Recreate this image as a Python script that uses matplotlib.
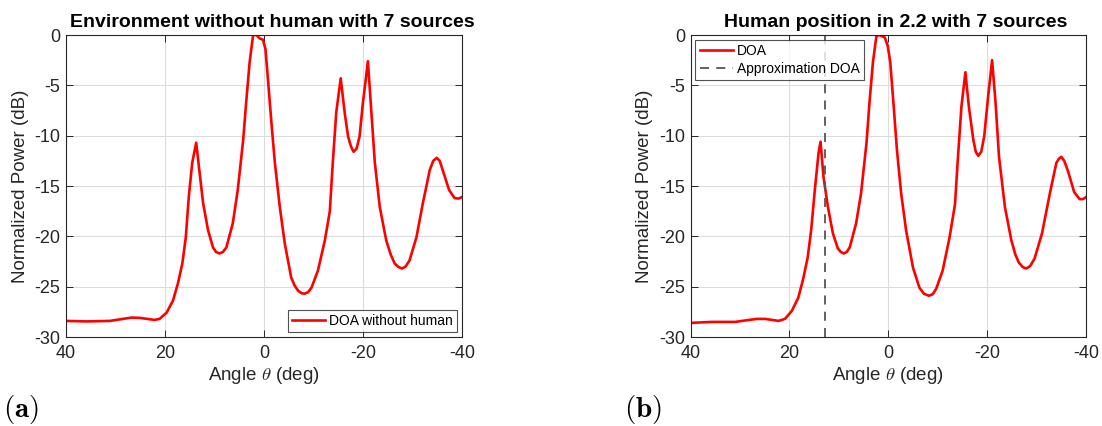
import matplotlib
matplotlib.use('Agg')
from matplotlib import pyplot as plt

# DOA spectrum, environment without human
angle_a = [40, 35.8, 31.1, 26.8, 25.1, 22.1, 21.1, 19.7, 18.4, 17.4, 16.5, 15.8,
           15.2, 14.5, 13.7, 13.0, 12.3, 11.3, 10.3, 9.7, 9.0, 8.3, 7.6, 6.3,
           5.3, 4.2, 3.6, 2.9, 2.2, 1.5, 0.9, 0.2, -0.3, -0.8, -1.5, -2.2,
           -3.2, -4.2, -5.5, -6.2, -6.9, -7.6, -8.2, -8.9, -9.6, -10.9, -12.3,
           -13.3, -13.9, -14.6, -15.5, -16.3, -17.0, -17.6, -18.1, -18.7,
           -19.3, -20.0, -21.0, -21.7, -22.4, -23.4, -24.7, -25.6, -26.4,
           -27.2, -27.9, -28.6, -29.4, -30.8, -32.1, -33.5, -34.2, -34.9,
           -35.5, -36.1, -37.4, -38.5, -39.3, -40]
power_a = [-28.4, -28.45, -28.4, -28.07, -28.1, -28.3, -28.2, -27.6, -26.4,
           -24.7, -22.7, -20.1, -16.1, -12.7, -10.7, -13.7, -16.7, -19.4,
           -21.1, -21.55, -21.7, -21.55, -21.1, -18.7, -15.4, -10.4, -6.7,
           -2.7, 0.0, 0.0, -0.33, -0.47, -1.4, -4.4, -8.7, -12.7, -17.1,
           -20.7, -24.1, -24.9, -25.4, -25.65, -25.7, -25.55, -25.1, -23.4,
           -20.4, -17.5, -12.7, -7.7, -4.3, -7.7, -10.1, -11.1, -11.6, -11.3,
           -10.1, -6.7, -2.6, -7.7, -12.7, -17.1, -20.4, -21.8, -22.7, -23.05,
           -23.2, -23.0, -22.4, -20.1, -16.7, -13.4, -12.5, -12.2, -12.5,
           -13.4, -15.4, -16.2, -16.25, -16.1]

# DOA spectrum, human at position 2.2
angle_b = [40, 35.7, 31.0, 26.6, 24.9, 22.2, 20.9, 19.5, 18.2, 17.2, 16.3,
           15.6, 14.8, 14.1, 13.7, 13.1, 12.2, 11.2, 10.2, 9.6, 9.0, 8.4, 7.8,
           6.5, 5.5, 4.4, 3.8, 3.1, 2.4, 1.75, 0.7, 0.1, -0.4, -1.1, -1.75,
           -2.6, -3.6, -5.0, -6.3, -7.2, -8.2, -9.0, -9.7, -11.0, -12.4, -13.5,
           -14.1, -14.8, -15.6, -16.3, -17.2, -17.7, -18.2, -18.8, -19.4,
           -20.2, -21.0, -21.7, -22.4, -23.6, -24.9, -25.7, -26.4, -27.2,
           -27.9, -28.7, -29.6, -31.1, -32.7, -34.0, -34.5, -35.0, -35.6,
           -36.4, -37.6, -38.7, -39.4, -40]
power_b = [-28.6, -28.5, -28.5, -28.2, -28.2, -28.4, -28.2, -27.4, -26.1,
           -24.2, -22.1, -19.4, -15.1, -11.7, -10.6, -14.1, -17.1, -19.7,
           -21.2, -21.55, -21.7, -21.55, -21.1, -18.7, -15.7, -10.7, -6.7,
           -2.7, -0.1, 0.0, -0.25, -1.1, -2.7, -7.1, -11.4, -15.7, -19.4,
           -23.1, -25.1, -25.7, -25.9, -25.75, -25.2, -23.4, -20.1, -16.8,
           -12.1, -7.1, -3.7, -7.1, -10.4, -11.6, -12.0, -11.6, -10.1, -6.1,
           -2.5, -6.7, -12.1, -17.1, -20.4, -21.8, -22.6, -23.05, -23.2,
           -22.95, -22.2, -19.7, -15.7, -12.7, -12.3, -12.1, -12.5, -13.6,
           -15.6, -16.3, -16.3, -16.1]
approx_doa = 12.7

titles = ['Environment without human with 7 sources',
          'Human position in 2.2 with 7 sources']

plt.rcParams['font.family'] = ['Liberation Sans', 'DejaVu Sans']
plt.rcParams['mathtext.fontset'] = 'cm'
plt.rcParams['axes.unicode_minus'] = False

fig = plt.figure(figsize=(11.02, 4.26), dpi=100)
axes = [fig.add_axes([0.0599, 0.2089, 0.3593, 0.7089]),
        fig.add_axes([0.6266, 0.2089, 0.3589, 0.7089])]

edge = '#262626'
for ax, title in zip(axes, titles):
    ax.set_xlim(40, -40)
    ax.set_ylim(-30, 0)
    ax.set_xticks([40, 20, 0, -20, -40])
    ax.set_yticks([-30, -25, -20, -15, -10, -5, 0])
    ax.grid(True, color='#dcdcdc', linewidth=0.8)
    ax.set_axisbelow(True)
    ax.tick_params(direction='in', top=True, right=True, labelsize=13,
                   colors=edge, length=5, width=0.7)
    ax.tick_params(axis='x', pad=6)
    ax.tick_params(axis='y', pad=4)
    for s in ax.spines.values():
        s.set_color(edge)
        s.set_linewidth(0.8)
    ax.set_xlabel(r'Angle $\theta$ (deg)', fontsize=13.5, color=edge, labelpad=2)
    ax.set_ylabel('Normalized Power (dB)', fontsize=13.5, color=edge, labelpad=4)
    ax.set_title(title, fontsize=14, fontweight='bold', pad=6, x=0.52)

legend_style = dict(fontsize=10, frameon=True, fancybox=False, edgecolor=edge,
                    handlelength=2.4, borderpad=0.3, handletextpad=0.3,
                    labelspacing=0.25, borderaxespad=0.35)

ax = axes[0]
ax.plot(angle_a, power_a, color='#ff0000', linewidth=1.9, label='DOA without human')
ax.legend(loc='lower right', **legend_style).get_frame().set_linewidth(0.8)

ax = axes[1]
ax.plot(angle_b, power_b, color='#ff0000', linewidth=1.9, label='DOA')
ax.axvline(approx_doa, color='#555555', linestyle=(0, (5, 4)), linewidth=1.3,
           label='Approximation DOA')
ax.legend(loc='upper left', **legend_style).get_frame().set_linewidth(0.8)

fig.text(0.003, 0.02, r'$\mathbf{(a)}$', fontsize=21)
fig.text(0.566, 0.02, r'$\mathbf{(b)}$', fontsize=21)

plt.savefig('out.png', dpi=100)
